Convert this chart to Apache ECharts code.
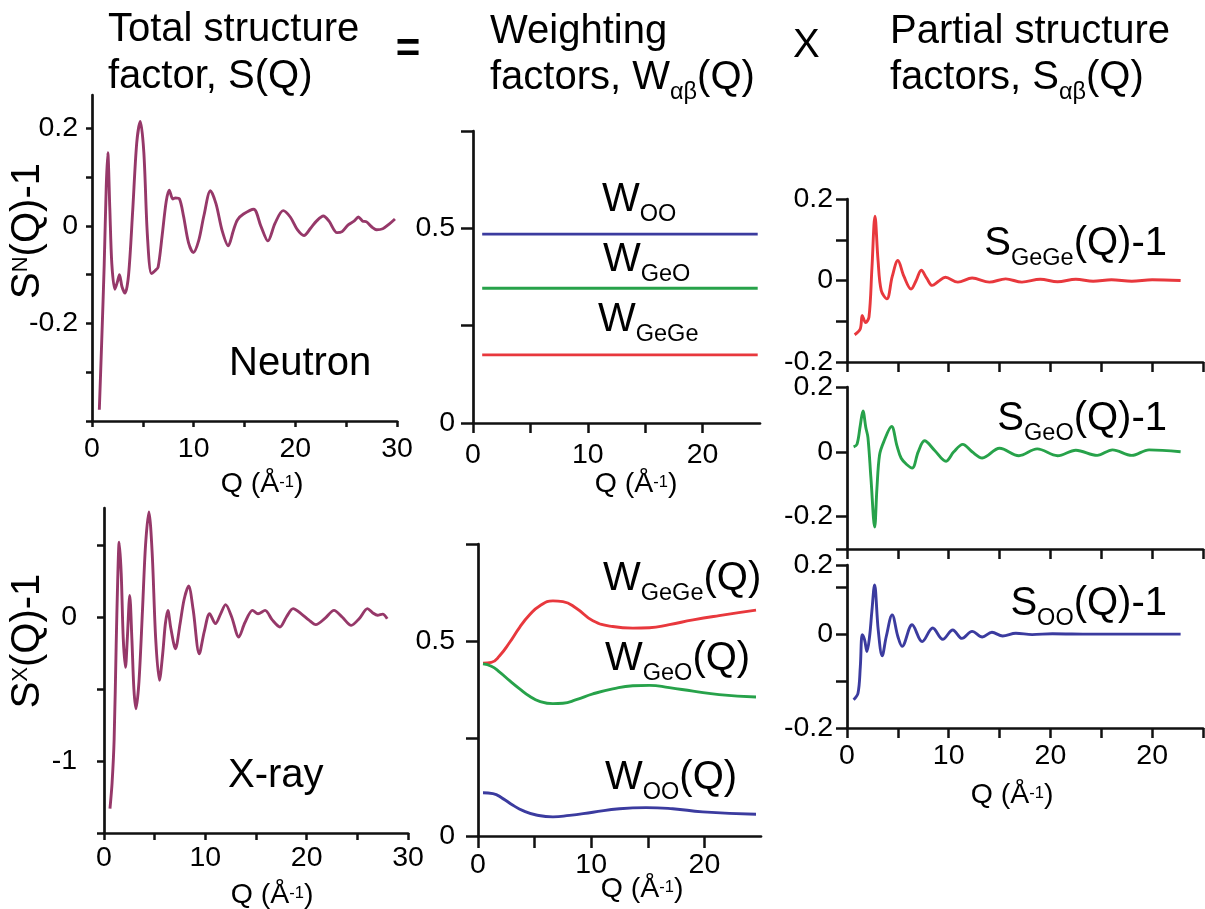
<!DOCTYPE html>
<html><head><meta charset="utf-8">
<script src="https://cdn.jsdelivr.net/npm/echarts@6/dist/echarts.min.js"></script>
<style>html,body{margin:0;padding:0;background:#fff}#c{width:1205px;height:909px}</style>
</head><body><div id="c"></div>
<script>
const FONT = 'Liberation Sans, Arial, Helvetica, sans-serif';

// ---------- data ----------
const neutronQ = [0.72,0.95,1.2,1.4,1.55,1.75,1.95,2.25,2.5,2.7,2.95,3.25,3.6,4.0,4.4,4.75,5.1,5.45,5.85,6.2,6.5,6.9,7.3,7.6,7.95,8.2,8.6,9.0,9.5,9.97,10.5,11.0,11.65,12.2,12.8,13.4,13.9,14.3,14.9,15.9,16.6,17.3,18.0,18.8,19.5,20.2,20.85,21.5,22.1,22.75,23.3,24.1,24.6,25.2,25.8,26.2,26.6,27.0,27.5,28.0,28.6,29.2,29.8];
const neutronS = [-0.377,-0.24,-0.08,0.08,0.150,0.037,-0.078,-0.130,-0.115,-0.100,-0.125,-0.138,-0.10,0.03,0.17,0.214,0.15,-0.02,-0.098,-0.092,-0.085,-0.02,0.05,0.073,0.055,0.057,0.055,0.02,-0.035,-0.055,-0.03,0.02,0.072,0.045,-0.01,-0.041,-0.01,0.012,0.024,0.034,0.0,-0.031,0.005,0.031,0.018,-0.008,-0.020,-0.005,0.010,0.020,0.010,-0.014,-0.012,0.002,0.010,0.018,0.010,0.008,-0.002,-0.008,-0.006,0.003,0.014];

const xrayQ = [0.59,0.8,1.0,1.2,1.35,1.5,1.7,1.9,2.12,2.3,2.54,2.75,2.95,3.15,3.45,3.8,4.1,4.43,4.75,5.1,5.47,5.8,6.05,6.3,6.6,7.05,7.5,7.9,8.35,8.8,9.4,9.9,10.42,11.0,11.5,12.0,12.6,13.3,13.9,14.66,15.2,15.9,16.6,17.36,18.0,18.66,19.5,20.2,20.9,21.8,22.7,23.5,24.4,25.2,26.0,26.5,27.0,27.5,27.95];
const xrayS = [-1.33,-1.15,-0.85,-0.2,0.25,0.52,0.3,-0.15,-0.35,-0.15,0.15,-0.15,-0.50,-0.637,-0.45,0.05,0.50,0.73,0.45,-0.15,-0.44,-0.25,-0.05,0.046,-0.08,-0.22,-0.05,0.12,0.215,0.05,-0.255,-0.10,0.023,-0.046,0.02,0.086,0.0,-0.139,-0.04,0.046,0.023,0.046,-0.02,-0.069,0.0,0.058,0.02,-0.02,-0.053,-0.01,0.046,0.0,-0.058,-0.01,0.058,0.03,0.012,0.02,-0.012];

// constant neutron weighting factors
const wConstQ = [0.8, 24.8];
const wConstOO = [0.485, 0.485];
const wConstGeO = [0.346, 0.346];
const wConstGeGe = [0.175, 0.175];

// Q-dependent x-ray weighting factors
const wGeGeQ = [0.44,1.18,1.91,2.79,3.68,4.56,5.44,6.62,7.5,8.68,10.15,11.9,13.68,15.15,16.9,19.0,21.3,24.56];
const wGeGe  = [0.444,0.446,0.463,0.497,0.536,0.568,0.591,0.604,0.602,0.585,0.553,0.538,0.534,0.535,0.543,0.555,0.566,0.580];
const wGeOQ  = [0.44,1.18,1.91,2.79,3.68,4.56,5.44,6.62,7.5,8.68,10.15,11.9,13.68,15.15,16.9,19.0,21.3,24.56];
const wGeO   = [0.442,0.436,0.421,0.399,0.378,0.359,0.346,0.340,0.341,0.350,0.365,0.378,0.386,0.387,0.381,0.372,0.363,0.357];
const wOOQ   = [0.44,1.32,2.2,3.09,3.97,5.15,6.62,8.09,10.15,12.5,14.85,17.2,19.85,24.56];
const wOO    = [0.111,0.109,0.096,0.079,0.065,0.054,0.049,0.053,0.061,0.070,0.073,0.070,0.062,0.056];

// partial structure factors
const sGeGeQ = [0.75,1.3,1.5,1.83,2.16,2.45,2.75,3.05,3.37,3.92,4.45,5.0,5.6,6.3,6.8,7.3,7.85,8.37,9.0,9.67,10.9,12.3,14.0,15.6,17.2,19.0,20.7,22.5,24.2,26.0,28.0,30.0,32.8];
const sGeGe  = [-0.133,-0.119,-0.086,-0.103,-0.09,0.03,0.158,0.05,-0.025,-0.045,0.01,0.049,0.01,-0.021,0.0,0.025,0.005,-0.012,-0.002,0.008,-0.004,0.006,-0.004,0.004,-0.004,0.003,-0.003,0.003,-0.002,0.002,-0.002,0.002,0.0];
const sGeOQ  = [0.65,0.98,1.3,1.57,1.85,2.06,2.35,2.72,2.94,3.2,3.6,4.38,4.9,5.33,5.9,6.41,7.0,7.62,8.6,9.74,10.5,11.38,12.3,13.3,15.0,16.9,18.7,20.7,22.5,24.6,26.1,28.0,29.7,32.8];
const sGeO   = [0.015,0.023,0.08,0.126,0.075,0.044,-0.08,-0.232,-0.114,-0.01,0.03,0.078,0.02,-0.02,-0.04,-0.05,0.0,0.034,0.005,-0.029,0.0,0.023,0.0,-0.019,0.011,-0.012,0.009,-0.012,0.005,-0.011,0.006,-0.011,0.006,0.0];
const sOOQ   = [0.65,1.08,1.31,1.5,1.73,1.96,2.22,2.45,2.71,3.07,3.46,3.86,4.44,5.0,5.42,6.4,7.39,8.43,9.41,10.4,11.3,12.3,13.3,14.25,15.3,16.6,18.2,20.2,24,28,32.8];
const sOO    = [-0.140,-0.126,-0.069,-0.001,-0.012,-0.037,-0.005,0.05,0.105,0.009,-0.046,-0.005,0.041,-0.005,-0.026,0.02,-0.016,0.013,-0.011,0.009,-0.009,0.006,-0.006,0.004,-0.004,0.002,-0.001,0.001,0.0,0.0,0.0];

// ---------- ticks & labels ----------
const xTicksLeft = [0,5,10,15,20,25,30];
const xLabelValsLeft = [0,10,20,30];
const xLabelTxtLeft = ['0','10','20','30'];
const xTicksMid = [0,5,10,15,20];
const xLabelValsMid = [0,10,20];
const xLabelTxtMid = ['0','10','20'];
const xTicksRight = [0,5,10,15,20,25,30,35];
const xLabelValsRight = [0,10,20,30];
const xLabelTxtRight = ['0','10','20','20'];

const yTicksNeutron = [-0.4,-0.3,-0.2,-0.1,0,0.1,0.2];
const yLabelValsNeutron = [-0.2,0,0.2];
const yLabelTxtNeutron = ['-0.2','0','0.2'];
const yTicksXray = [-1.5,-1,-0.5,0,0.5];
const yLabelValsXray = [-1,0];
const yLabelTxtXray = ['-1','0'];
const yTicksW = [0,0.25,0.5,0.75];
const yLabelValsW = [0,0.5];
const yLabelTxtW = ['0','0.5'];
const yTicksR1 = [-0.2,-0.1,0,0.1,0.2];
const yLabelValsR1 = [-0.2,0,0.2];
const yLabelTxtR1 = ['-0.2','0','0.2'];
const yTicksR2 = [-0.3,-0.2,0,0.2];
const yLabelValsR2 = [-0.2,0,0.2];
const yLabelTxtR2 = ['-0.2','0','0.2'];
const yMaxR3 = 0.1474;
const yTicksR3 = [-0.2,-0.1,0,0.1,yMaxR3];
const yLabelValsR3 = [-0.2,0,yMaxR3];
const yLabelTxtR3 = ['-0.2','0','0.2'];

const PURPLE = '#963869', RED = '#e8383d', GREEN = '#27a24a', BLUE = '#3b3b9f', AX = '#111';

function fmt(vals, txts) {
  return function (v) {
    for (let i = 0; i < vals.length; i++) if (Math.abs(vals[i] - v) < 1e-6) return txts[i];
    return '';
  };
}
function axis(type, grid, min, max, ticks, labVals, labTxts, tickLen, margin, showLabel) {
  return {
    type: 'value', gridIndex: grid, min: min, max: max,
    axisLine: {show: true, onZero: false, lineStyle: {color: AX, width: 2.7}},
    axisTick: {show: true, length: tickLen, customValues: ticks, lineStyle: {color: AX, width: 2.5}},
    splitLine: {show: false},
    axisLabel: {show: showLabel !== false, customValues: labVals, formatter: fmt(labVals, labTxts),
      fontSize: 28.5, fontFamily: FONT, color: '#000', margin: margin}
  };
}
function zip(q, v) { return q.map((x, i) => [x, v[i]]); }
function line(idx, q, v, color, smooth) {
  return {type: 'line', xAxisIndex: idx, yAxisIndex: idx, data: zip(q, v), symbol: 'none',
    smooth: smooth === undefined ? 0.4 : smooth, lineStyle: {color: color, width: 2.9}, itemStyle: {color: color},
    silent: true, animation: false};
}

const richSub = {m: {fontSize: 40, fontFamily: FONT, lineHeight: 53}, s: {fontSize: 23.5, fontFamily: FONT, lineHeight: 53, verticalAlign: 'bottom'}};
const richSup = {m: {fontSize: 40, fontFamily: FONT, lineHeight: 36}, p: {fontSize: 22, fontFamily: FONT, lineHeight: 36, verticalAlign: 'top'}};
const richQ = {m: {fontSize: 28.5, fontFamily: FONT, lineHeight: 20}, p: {fontSize: 16.5, fontFamily: FONT, lineHeight: 20, verticalAlign: 'top'}};

function T(x, y, text, o) {
  o = o || {};
  const st = {text: text, fill: '#000', align: o.align || 'left', verticalAlign: 'middle', fontSize: o.fs || 40, fontFamily: FONT};
  if (o.bold) st.fontWeight = 'bold';
  if (o.rich) st.rich = o.rich;
  return {type: 'text', x: x, y: y, rotation: o.rot || 0, style: st, z: 10, silent: true};
}
const qName = '{m|Q (Å}{p|-1}{m|)}';

const grids = [
  {left: 92, top: 95, width: 305, height: 326},
  {left: 104, top: 508, width: 304, height: 325},
  {left: 473, top: 131, width: 287, height: 292},
  {left: 478, top: 544, width: 283, height: 292},
  {left: 847, top: 199, width: 356, height: 163},
  {left: 847, top: 387, width: 356, height: 162},
  {left: 847, top: 565, width: 356, height: 163}
].map(g => Object.assign({containLabel: false, outerBoundsMode: 'none'}, g));

const option = {
  animation: false,
  backgroundColor: '#fff',
  grid: grids,
  xAxis: [
    axis('x', 0, 0, 30, xTicksLeft, xLabelValsLeft, xLabelTxtLeft, 6, 14),
    axis('x', 1, 0, 30, xTicksLeft, xLabelValsLeft, xLabelTxtLeft, 7, 11),
    axis('x', 2, 0, 25, xTicksMid, xLabelValsMid, xLabelTxtMid, 10, 18),
    axis('x', 3, 0, 25, xTicksMid, xLabelValsMid, xLabelTxtMid, 12, 15),
    axis('x', 4, 0, 35, xTicksRight, xLabelValsRight, xLabelTxtRight, 10, 15, false),
    axis('x', 5, 0, 35, xTicksRight, xLabelValsRight, xLabelTxtRight, 10, 15, false),
    axis('x', 6, 0, 35, xTicksRight, xLabelValsRight, xLabelTxtRight, 10, 14)
  ],
  yAxis: [
    axis('y', 0, -0.4, 0.268, yTicksNeutron, yLabelValsNeutron, yLabelTxtNeutron, 6, 14),
    axis('y', 1, -1.5, 0.757, yTicksXray, yLabelValsXray, yLabelTxtXray, 7, 27),
    axis('y', 2, 0, 0.75, yTicksW, yLabelValsW, yLabelTxtW, 12, 18),
    axis('y', 3, 0, 0.75, yTicksW, yLabelValsW, yLabelTxtW, 12, 23),
    axis('y', 4, -0.2, 0.2, yTicksR1, yLabelValsR1, yLabelTxtR1, 11, 14),
    axis('y', 5, -0.3, 0.2, yTicksR2, yLabelValsR2, yLabelTxtR2, 11, 14),
    axis('y', 6, -0.2, yMaxR3, yTicksR3, yLabelValsR3, yLabelTxtR3, 11, 14)
  ],
  series: [
    line(0, neutronQ, neutronS, PURPLE, 0.3),
    line(1, xrayQ, xrayS, PURPLE, 0.3),
    line(2, wConstQ, wConstOO, BLUE, 0),
    line(2, wConstQ, wConstGeO, GREEN, 0),
    line(2, wConstQ, wConstGeGe, RED, 0),
    line(3, wGeGeQ, wGeGe, RED, 0.5),
    line(3, wGeOQ, wGeO, GREEN, 0.5),
    line(3, wOOQ, wOO, BLUE, 0.5),
    line(4, sGeGeQ, sGeGe, RED, 0.35),
    line(5, sGeOQ, sGeO, GREEN, 0.35),
    line(6, sOOQ, sOO, BLUE, 0.35)
  ],
  graphic: [
    T(108, 30, 'Total structure'),
    T(108, 77, 'factor, S(Q)'),
    T(408, 50, '=', {align: 'center', fs: 42, bold: true}),
    T(490, 32, 'Weighting'),
    T(490, 78, '{m|factors, W}{s|αβ}{m|(Q)}', {rich: richSub}),
    T(793, 46, 'X'),
    T(890, 32, 'Partial structure'),
    T(890, 78, '{m|factors, S}{s|αβ}{m|(Q)}', {rich: richSub}),
    T(28, 231, '{m|S}{p|N}{m|(Q)-1}', {rich: richSup, align: 'center', rot: Math.PI / 2}),
    T(28, 641, '{m|S}{p|X}{m|(Q)-1}', {rich: richSup, align: 'center', rot: Math.PI / 2}),
    T(229, 364, 'Neutron'),
    T(228, 776, 'X-ray'),
    T(602, 200, '{m|W}{s|OO}', {rich: richSub}),
    T(603, 260, '{m|W}{s|GeO}', {rich: richSub}),
    T(598, 320, '{m|W}{s|GeGe}', {rich: richSub}),
    T(603, 579, '{m|W}{s|GeGe}{m|(Q)}', {rich: richSub}),
    T(605, 659, '{m|W}{s|GeO}{m|(Q)}', {rich: richSub}),
    T(605, 778, '{m|W}{s|OO}{m|(Q)}', {rich: richSub}),
    T(1167, 244, '{m|S}{s|GeGe}{m|(Q)-1}', {rich: richSub, align: 'right'}),
    T(1167, 419, '{m|S}{s|GeO}{m|(Q)-1}', {rich: richSub, align: 'right'}),
    T(1167, 604, '{m|S}{s|OO}{m|(Q)-1}', {rich: richSub, align: 'right'}),
    T(262, 484, qName, {rich: richQ, align: 'center'}),
    T(272, 895, qName, {rich: richQ, align: 'center'}),
    T(636, 484, qName, {rich: richQ, align: 'center'}),
    T(642, 889, qName, {rich: richQ, align: 'center'}),
    T(1012, 795, qName, {rich: richQ, align: 'center'})
  ]
};
const chart = echarts.init(document.getElementById('c'), null, {renderer: 'canvas'});
chart.setOption(option);
</script>
</body></html>
